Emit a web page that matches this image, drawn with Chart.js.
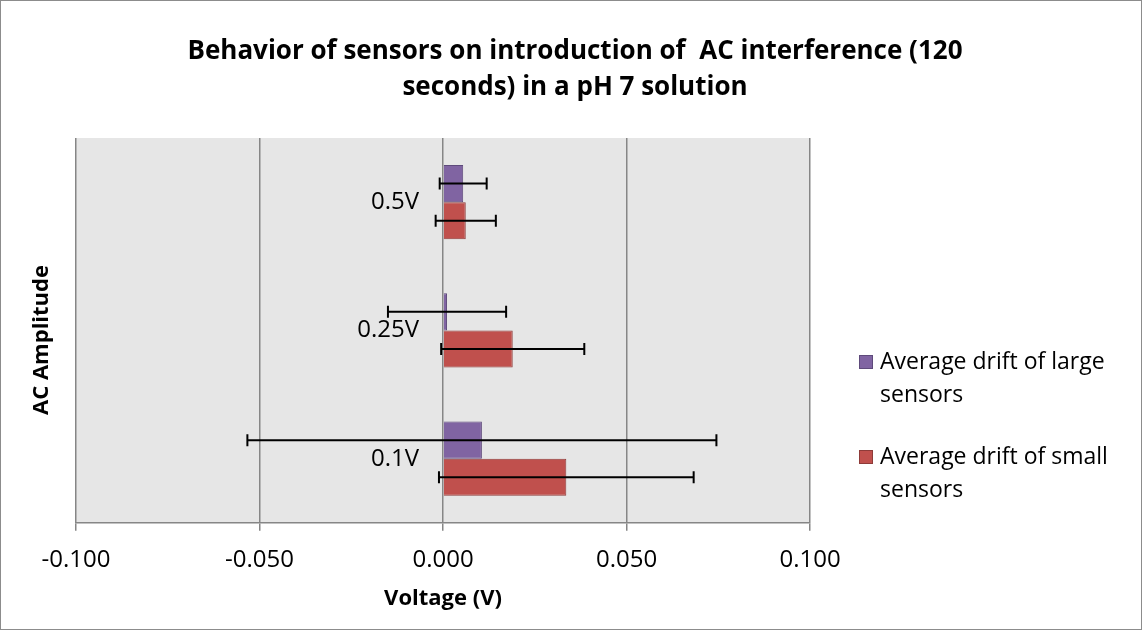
<!DOCTYPE html>
<html>
<head>
<meta charset="utf-8">
<script src="https://cdn.jsdelivr.net/npm/chart.js@4"></script>
<style>
  html, body { margin: 0; padding: 0; background: #fff; }
  #wrap { position: relative; width: 1142px; height: 630px; box-sizing: border-box; border: 1px solid #8c8c8c; }
  canvas { display: block; }
</style>
</head>
<body>
<div id="wrap"><canvas id="myChart" width="1140" height="628"></canvas></div>
<script>
// données
const categories = ['0.5V', '0.25V', '0.1V'];
const largeDrift = [0.0055, 0.0011, 0.0106];
const smallDrift = [0.0062, 0.0190, 0.0336];
const largeErr = [0.0064, 0.0161, 0.0639];
const smallErr = [0.0082, 0.0195, 0.0347];
const seriesNames = ['Average drift of large sensors', 'Average drift of small sensors'];
const legendLines = [['Average drift of large', 'sensors'], ['Average drift of small', 'sensors']];
const titleLines = ['Behavior of sensors on introduction of  AC interference (120', 'seconds) in a pH 7 solution'];
const xMin = -0.1, xMax = 0.1, xStep = 0.05;

const FONT = '"Open Sans", sans-serif';
const purple = '#8064A2', purpleEdge = '#5E4A7B';
const red = '#C0504D', redEdge = '#8E3B39';

// fond gris de la zone de tracé
const plotBg = {
    id: 'plotBg',
    beforeDraw(chart) {
        const a = chart.chartArea, ctx = chart.ctx;
        ctx.save();
        ctx.fillStyle = '#e6e6e6';
        ctx.fillRect(a.left, a.top, a.right - a.left, a.bottom - a.top);
        ctx.restore();
    }
};

// barres d'erreur + étiquettes de catégorie près de zéro
const extras = {
    id: 'extras',
    afterDatasetsDraw(chart) {
        const ctx = chart.ctx, xs = chart.scales.x, ys = chart.scales.y;
        const errs = [largeErr, smallErr];
        ctx.save();
        ctx.strokeStyle = '#000';
        ctx.lineWidth = 2;
        chart.data.datasets.forEach((ds, d) => {
            chart.getDatasetMeta(d).data.forEach((bar, i) => {
                const v = ds.data[i], e = errs[d][i];
                const x1 = xs.getPixelForValue(v - e), x2 = xs.getPixelForValue(v + e);
                const y = bar.y;
                ctx.beginPath();
                ctx.moveTo(x1, y); ctx.lineTo(x2, y);
                ctx.moveTo(x1, y - 6); ctx.lineTo(x1, y + 6);
                ctx.moveTo(x2, y - 6); ctx.lineTo(x2, y + 6);
                ctx.stroke();
            });
        });
        // étiquettes
        ctx.fillStyle = '#000';
        ctx.font = '24px ' + FONT;
        ctx.textAlign = 'right';
        ctx.textBaseline = 'middle';
        const x0 = xs.getPixelForValue(0);
        categories.forEach((c, i) => {
            ctx.fillText(c, x0 - 24, ys.getPixelForValue(i));
        });
        ctx.restore();
    },
    afterDraw(chart) {
        const ctx = chart.ctx;
        ctx.save();
        ctx.fillStyle = '#000';
        // titre
        ctx.font = 'bold 26px ' + FONT;
        ctx.textAlign = 'center';
        ctx.textBaseline = 'middle';
        ctx.fillText(titleLines[0], 574, 51);
        ctx.fillText(titleLines[1], 574, 87);
        // titre axe Y
        ctx.font = 'bold 22px ' + FONT;
        ctx.save();
        ctx.translate(41, 339);
        ctx.rotate(-Math.PI / 2);
        ctx.fillText('AC Amplitude', 0, 0);
        ctx.restore();
        // légende
        const fills = [purple, red], edges = [purpleEdge, redEdge];
        const ys = [361, 456];
        ctx.font = '23px ' + FONT;
        ctx.textAlign = 'left';
        legendLines.forEach((lines, k) => {
            ctx.fillStyle = fills[k];
            ctx.strokeStyle = edges[k];
            ctx.lineWidth = 1;
            ctx.fillRect(858, ys[k] - 7, 14, 14);
            ctx.strokeRect(858.5, ys[k] - 6.5, 13, 13);
            ctx.fillStyle = '#000';
            lines.forEach((t, j) => ctx.fillText(t, 879, ys[k] + j * 33));
        });
        ctx.restore();
    }
};

const ctx = document.getElementById('myChart').getContext('2d');
const myChart = new Chart(ctx, {
    type: 'bar',
    data: {
        labels: categories,
        datasets: [{
            label: seriesNames[0],
            data: largeDrift,
            backgroundColor: purple,
            borderColor: purpleEdge,
            borderWidth: 1
        }, {
            label: seriesNames[1],
            data: smallDrift,
            backgroundColor: red,
            borderColor: redEdge,
            borderWidth: 1
        }]
    },
    options: {
        indexAxis: 'y',
        responsive: false,
        animation: false,
        barPercentage: 1,
        categoryPercentage: 0.578,
        layout: { padding: { left: 75, right: 331, top: 137, bottom: 17 } },
        plugins: {
            legend: { display: false },
            tooltip: { enabled: false }
        },
        scales: {
            x: {
                min: xMin,
                max: xMax,
                ticks: {
                    stepSize: xStep,
                    padding: 15,
                    color: '#000',
                    font: { family: FONT, size: 24 },
                    callback: v => v.toFixed(3)
                },
                grid: { color: '#868686', lineWidth: 1.5, tickLength: 8, drawTicks: true },
                border: { color: '#868686', width: 1.5 },
                title: {
                    display: true,
                    text: 'Voltage (V)',
                    color: '#000',
                    font: { family: FONT, size: 22, weight: 'bold' },
                    padding: { top: -4, bottom: 0 }
                }
            },
            y: {
                display: false
            }
        }
    },
    plugins: [plotBg, extras]
});
</script>
</body>
</html>
